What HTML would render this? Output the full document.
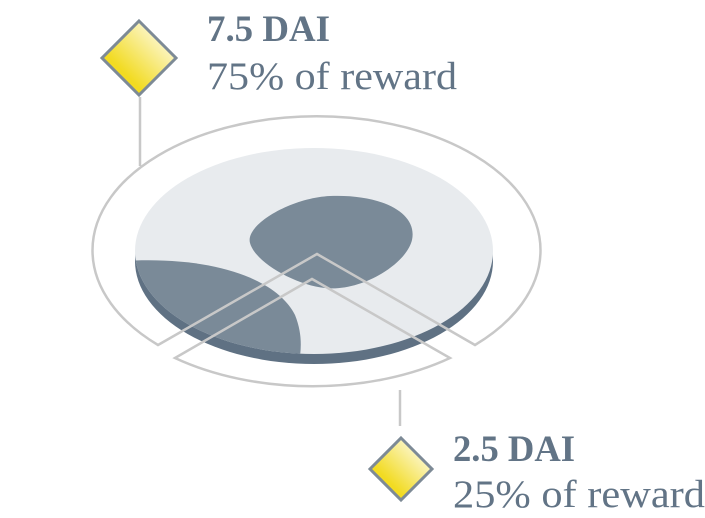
<!DOCTYPE html>
<html><head><meta charset="utf-8"><style>
html,body{margin:0;padding:0;background:#fff;}
svg{display:block;}
text{font-family:"Liberation Serif",serif;fill:#627486;}
</style></head><body>
<svg width="705" height="518" viewBox="0 0 705 518">
<defs>
<linearGradient id="g" x1="0" y1="1" x2="1" y2="0">
<stop offset="0.3" stop-color="#f2db22"/><stop offset="0.95" stop-color="#ffffff"/>
</linearGradient>
<clipPath id="disc"><ellipse cx="314" cy="251" rx="179" ry="103"/></clipPath>
</defs>
<g>
<ellipse cx="314" cy="261" rx="179" ry="103" fill="#5f7183"/>
<ellipse cx="314" cy="251" rx="179" ry="103" fill="#e8ebee"/>
<path clip-path="url(#disc)" d="M100,263 C200,252 275,275 295,315 C305,340 300,360 295,380 L100,380 Z" fill="#7a8a98"/>
<path d="M250,243 C245,225 290,198 330,196 C380,194 418,212 412,240 C406,265 360,292 325,288 C295,285 255,262 250,243 Z" fill="#7a8a98"/>
</g>
<g fill="none" stroke="#c8c8c8" stroke-width="2.5">
<path d="M158,345 A224,134 0 1 1 475,345 L317,254 Z"/>
<path d="M175,358 L312,279 L450,358 A224,134 0 0 1 175,358 Z"/>
<line x1="140" y1="97" x2="140" y2="166"/>
<line x1="400" y1="390" x2="400" y2="426"/>
</g>
<polygon points="139,21 176,58 139,95 102,58" fill="url(#g)" stroke="#7d8a96" stroke-width="3"/>
<polygon points="401,438 432,469 401,500 370,469" fill="url(#g)" stroke="#7d8a96" stroke-width="3"/>
<text x="207" y="41" font-size="37" font-weight="bold" textLength="123" lengthAdjust="spacingAndGlyphs">7.5 DAI</text>
<text x="207" y="89" font-size="39" textLength="250" lengthAdjust="spacingAndGlyphs">75% of reward</text>
<text x="453" y="461" font-size="37" font-weight="bold" textLength="122" lengthAdjust="spacingAndGlyphs">2.5 DAI</text>
<text x="453" y="507" font-size="39" textLength="252" lengthAdjust="spacingAndGlyphs">25% of reward</text>
</svg>
</body></html>
